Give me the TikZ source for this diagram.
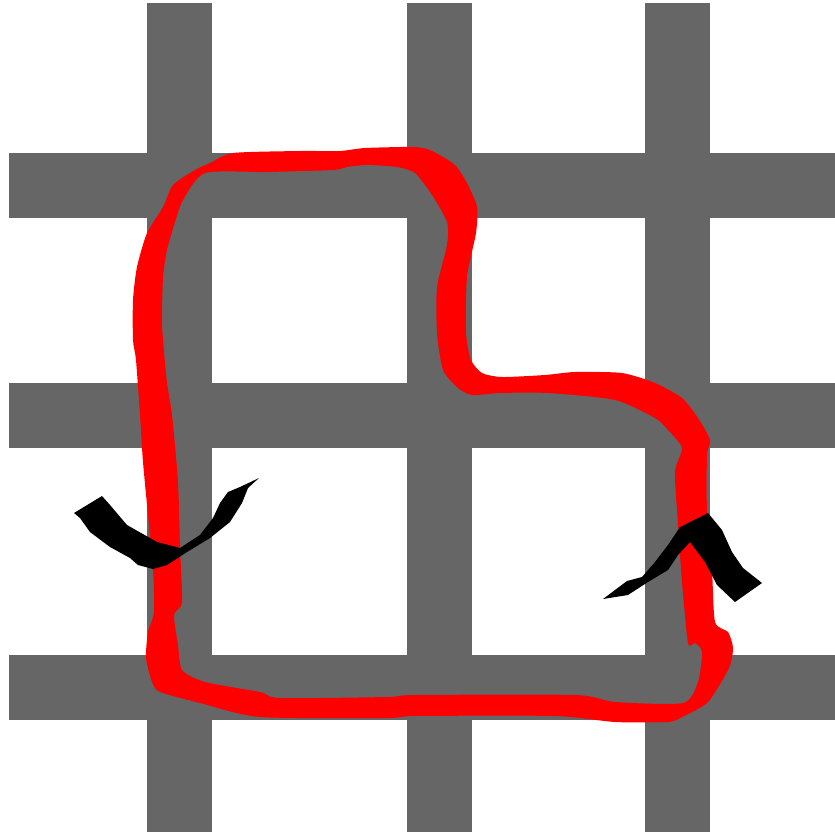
\documentclass[tikz,border=0pt]{standalone}
\usepackage{tikz}
\definecolor{bargray}{RGB}{102,102,102}
\definecolor{loopred}{RGB}{255,0,0}

\begin{document}
\begin{tikzpicture}[
    x=0.02cm, y=-0.02cm,
    gridbar/.style={fill=bargray},
    redloop/.style={fill=loopred, even odd rule},
    inkmark/.style={fill=black}
]
    \useasboundingbox (0,0) rectangle (835,836);
    \fill[white] (0,0) rectangle (835,836);

    % Grid: vertical bars
    \foreach \x in {147,407,645}
        \fill[gridbar] (\x,3) rectangle ++(65,829);
    % Grid: horizontal bars
    \foreach \y in {153,383,655}
        \fill[gridbar] (9,\y) rectangle ++(826,65);

    % Red loop (outer edge, inner edge)
    \fill[redloop]
        plot[smooth cycle, tension=0.4] coordinates {
            (233,153) (300,151) (340,151) (365,148) (415,147) (432,151)
            (455,165) (468,185) (477,207) (476,233) (467,277) (466,333)
            (471,360) (482,373) (502,377) (545,375) (575,372) (622,373)
            (655,383) (682,398) (698,418) (710,440) (707,455) (707,512)
            (712,570) (715,622) (728,632) (733,648) (729,668) (708,702)
            (682,717) (668,722) (615,722) (555,716) (415,716) (387,718)
            (260,717) (200,703) (160,692) (152,682) (146,658) (148,632)
            (154,612) (153,568) (148,515) (143,462) (140,415) (136,360)
            (133,340) (133,300) (137,267) (147,233) (163,207) (173,185)
            (195,170) (210,163)}
        plot[smooth cycle, tension=0.4] coordinates {
            (205,173) (267,172) (333,170) (347,167) (367,165) (397,167)
            (415,173) (432,195) (447,222) (447,245) (437,287) (437,333)
            (443,370) (458,388) (472,395) (500,393) (548,393) (615,400)
            (655,418) (668,430) (682,448) (675,472) (678,525) (682,582)
            (688,643) (695,643) (702,652) (698,682) (683,703) (615,702)
            (575,695) (415,695) (387,697) (280,698) (260,692) (205,682)
            (182,670) (178,645) (174,615) (182,602) (180,548) (178,482)
            (172,415) (167,383) (163,340) (162,320) (163,277) (167,250)
            (175,222) (183,200)};

    % Black marks
    \fill[inkmark] (74,513) -- (102,496) -- (110,505) -- (127,525) -- (157,542)
        -- (180,548) -- (200,535) -- (213,518) -- (220,503) -- (228,492)
        -- (240,487) -- (259,478) -- (248,488) -- (242,503) -- (230,522)
        -- (210,538) -- (187,552) -- (167,565) -- (153,569) -- (138,565)
        -- (130,558) -- (110,547) -- (90,532) -- (80,518) -- cycle;
    \fill[inkmark] (603,599) -- (627,581) -- (642,577) -- (655,562) -- (668,545)
        -- (680,527) -- (708,513) -- (722,530) -- (732,552) -- (743,568)
        -- (762,583) -- (735,602) -- (717,585) -- (705,562) -- (690,542)
        -- (678,555) -- (668,570) -- (648,582) -- (628,595) -- cycle;

\end{tikzpicture}
\end{document}
